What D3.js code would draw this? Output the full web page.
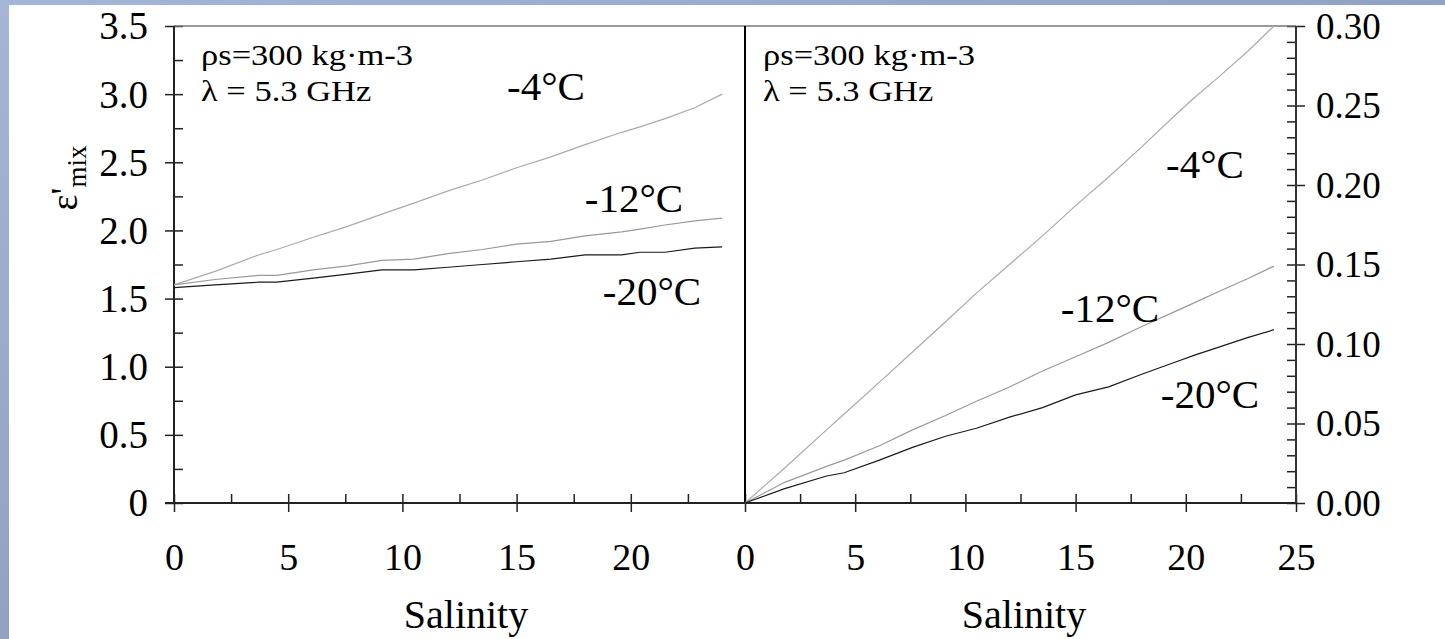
<!DOCTYPE html>
<html>
<head>
<meta charset="utf-8">
<script src="https://cdn.jsdelivr.net/npm/d3@7"></script>
<style>
  body { margin: 0; background: #fff; }
</style>
</head>
<body>
<svg id="chart" width="1445" height="639"></svg>
<script>
// salinity points shared by every curve
const salinity = [0, 1.8, 3.7, 4.5, 6.1, 7.6, 9.1, 10.5, 12.0, 13.5, 15.0, 16.5, 18.0, 19.6, 20.4, 21.5, 22.8, 24.0];

// left panel: real part eps'mix
const realM4  = [1.60, 1.70, 1.82, 1.86, 1.95, 2.03, 2.12, 2.20, 2.29, 2.37, 2.46, 2.54, 2.63, 2.72, 2.76, 2.82, 2.90, 3.00];
const realM12 = [1.60, 1.64, 1.67, 1.67, 1.71, 1.74, 1.78, 1.79, 1.83, 1.86, 1.90, 1.92, 1.96, 1.99, 2.01, 2.04, 2.07, 2.09];
const realM20 = [1.58, 1.60, 1.62, 1.62, 1.65, 1.68, 1.71, 1.71, 1.73, 1.75, 1.77, 1.79, 1.82, 1.82, 1.84, 1.84, 1.87, 1.88];

// right panel: imaginary part
const imagM4  = [0, 0.022, 0.046, 0.056, 0.076, 0.095, 0.114, 0.132, 0.150, 0.168, 0.187, 0.205, 0.224, 0.245, 0.255, 0.268, 0.284, 0.300];
const imagM12 = [0, 0.013, 0.023, 0.027, 0.036, 0.046, 0.055, 0.064, 0.073, 0.083, 0.092, 0.101, 0.111, 0.121, 0.126, 0.133, 0.141, 0.149];
const imagM20 = [0, 0.009, 0.017, 0.019, 0.027, 0.035, 0.042, 0.047, 0.054, 0.060, 0.068, 0.073, 0.081, 0.089, 0.093, 0.098, 0.104, 0.109];

const curveNames = ['-4°C', '-12°C', '-20°C'];
const curveColors = ['#aaaaaa', '#999999', '#1a1a1a'];

const leftXTicks = [0, 5, 10, 15, 20];
const rightXTicks = [0, 5, 10, 15, 20, 25];
const leftYTicks = [0, 0.5, 1.0, 1.5, 2.0, 2.5, 3.0, 3.5];
const rightYTicks = [0, 0.05, 0.10, 0.15, 0.20, 0.25, 0.30];
const noteLines = ['ρs=300 kg·m-3', 'λ = 5.3 GHz'];

const serif = '"Liberation Serif", "Times New Roman", serif';
const svg = d3.select('#chart');

// slide background
const defs = svg.append('defs');
const grad = defs.append('linearGradient').attr('id', 'bg')
  .attr('x1', 0).attr('y1', 0).attr('x2', 1).attr('y2', 1);
grad.append('stop').attr('offset', 0).attr('stop-color', '#a6b5d5');
grad.append('stop').attr('offset', 1).attr('stop-color', '#7f8dae');
svg.append('rect').attr('width', 1445).attr('height', 639).attr('fill', 'url(#bg)');
svg.append('rect').attr('x', 9).attr('y', 5).attr('width', 1436).attr('height', 634).attr('fill', '#fff');

const yTop = 26, yBot = 503;
const xL = d3.scaleLinear().domain([0, 25]).range([174, 745]);
const xR = d3.scaleLinear().domain([0, 25]).range([745, 1296]);
const yL = d3.scaleLinear().domain([0, 3.5]).range([yBot, yTop]);
const yR = d3.scaleLinear().domain([0, 0.30]).range([yBot, yTop]);

function styleTicks(g) {
  g.select('.domain').remove();
  g.selectAll('line').attr('stroke', '#222').attr('stroke-width', 1.5);
  g.selectAll('text').style('font-family', serif).attr('fill', '#000');
}

// x axes: inward ticks for all, outward for majors
function xAxis(scale, majors, minors) {
  svg.append('g').attr('transform', `translate(0,${yBot})`)
    .call(d3.axisBottom(scale).tickValues(majors.concat(minors)).tickSizeInner(-9).tickSizeOuter(0).tickFormat(''))
    .call(styleTicks);
  const g = svg.append('g').attr('transform', `translate(0,${yBot})`)
    .call(d3.axisBottom(scale).tickValues(majors).tickSizeInner(9).tickSizeOuter(0).tickFormat(d3.format('d')))
    .call(styleTicks);
  g.selectAll('text').attr('y', 67).attr('dy', 0).style('font-size', '38px');
}
xAxis(xL, leftXTicks, d3.range(2.5, 25, 5));
xAxis(xR, rightXTicks, d3.range(2.5, 25, 5));

// left y axis
svg.append('g').attr('transform', `translate(174,0)`)
  .call(d3.axisLeft(yL).tickValues(d3.range(0, 3.51, 0.25)).tickSizeInner(-9).tickSizeOuter(0).tickFormat(''))
  .call(styleTicks);
svg.append('g').attr('transform', `translate(174,0)`)
  .call(d3.axisLeft(yL).tickValues(leftYTicks).tickSizeInner(9).tickSizeOuter(0).tickFormat(d => d === 0 ? '0' : d3.format('.1f')(d)))
  .call(styleTicks)
  .call(g => g.selectAll('text').attr('x', -26).attr('dy', '0.33em').style('font-size', '39px'));

// right y axis
svg.append('g').attr('transform', `translate(1296,0)`)
  .call(d3.axisRight(yR).tickValues(d3.range(0, 0.3001, 0.01)).tickSizeInner(-9).tickSizeOuter(0).tickFormat(''))
  .call(styleTicks);
svg.append('g').attr('transform', `translate(1296,0)`)
  .call(d3.axisRight(yR).tickValues(rightYTicks).tickSizeInner(9).tickSizeOuter(0).tickFormat(d3.format('.2f')))
  .call(styleTicks)
  .call(g => g.selectAll('text').attr('x', 20).attr('dy', '0.33em').style('font-size', '37px'));

// frame lines
svg.append('line').attr('x1', 174).attr('x2', 1296).attr('y1', yTop).attr('y2', yTop)
  .attr('stroke', '#777').attr('stroke-width', 1.5);
svg.append('line').attr('x1', 165).attr('x2', 1296).attr('y1', yBot).attr('y2', yBot)
  .attr('stroke', '#222').attr('stroke-width', 2);
svg.append('line').attr('x1', 174).attr('x2', 174).attr('y1', yTop).attr('y2', yBot)
  .attr('stroke', '#222').attr('stroke-width', 2);
svg.append('line').attr('x1', 745).attr('x2', 745).attr('y1', yTop).attr('y2', yBot)
  .attr('stroke', '#000').attr('stroke-width', 2);
svg.append('line').attr('x1', 1296).attr('x2', 1296).attr('y1', yTop).attr('y2', yBot)
  .attr('stroke', '#333').attr('stroke-width', 2);

// curves
function drawCurves(xs, ys, series) {
  const line = d3.line().x((d, i) => xs(salinity[i])).y(d => ys(d));
  svg.append('g').selectAll('path').data(series).join('path')
    .attr('d', d => line(d))
    .attr('fill', 'none')
    .attr('stroke', (d, i) => curveColors[i])
    .attr('stroke-width', 1.2);
}
drawCurves(xL, yL, [realM4, realM12, realM20]);
drawCurves(xR, yR, [imagM4, imagM12, imagM20]);

// helper for plain text
function label(x, y, t, size) {
  return svg.append('text').attr('x', x).attr('y', y)
    .style('font-family', serif).style('font-size', size + 'px').attr('fill', '#000').text(t);
}

// curve labels
const leftLabelPos = [[546, 100], [634, 212], [652, 305]];
const rightLabelPos = [[1205, 178], [1110, 322], [1210, 408]];
[leftLabelPos, rightLabelPos].forEach(pos => {
  curveNames.forEach((name, i) => label(pos[i][0], pos[i][1], name, 41).attr('text-anchor', 'middle'));
});

// notes in each panel
[201, 763].forEach(x0 => {
  noteLines.forEach((t, i) => {
    label(0, 0, t, 30).attr('transform', `translate(${x0},${i === 0 ? 65 : 101}) scale(1.15,1)`);
  });
});

// axis titles
label(466, 628, 'Salinity', 40).attr('text-anchor', 'middle');
label(1024, 628, 'Salinity', 40).attr('text-anchor', 'middle');

const yTitle = label(0, 0, '', 38).attr('transform', 'translate(77,178) rotate(-90)')
  .attr('text-anchor', 'middle');
yTitle.append('tspan').text("ε'");
yTitle.append('tspan').attr('dy', 9).style('font-size', '27px').text('mix');
</script>
</body>
</html>
